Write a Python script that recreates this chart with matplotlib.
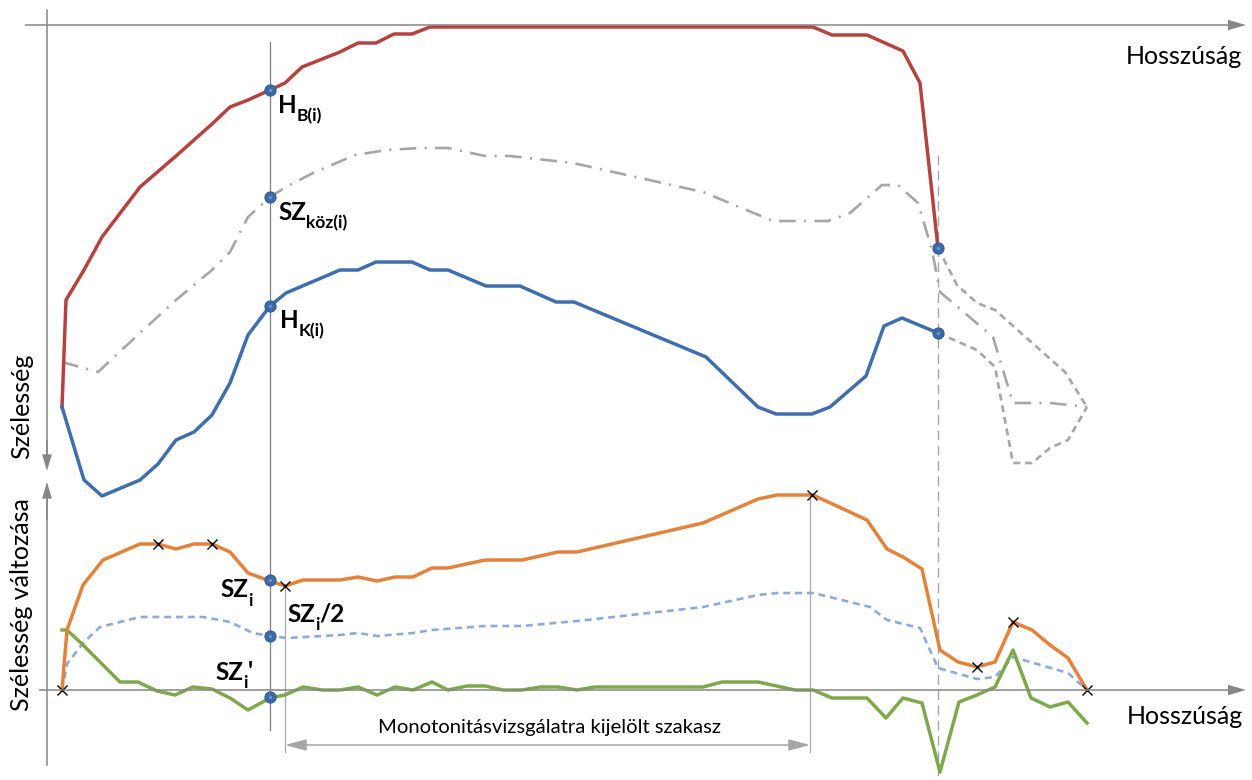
import matplotlib
matplotlib.use("Agg")
import matplotlib.pyplot as plt

plt.rcParams['font.family'] = ['Lato', 'DejaVu Sans']
plt.rcParams['lines.scale_dashes'] = False

# ---------------- data (length position / value, drawing units) ----------------
hb_x = [62, 66, 84, 102, 140, 176, 212, 230, 248, 270, 285, 302, 340, 358, 376, 394, 412, 430,
        813, 832, 867, 903, 920, 938]
hb_y = [407, 300, 270, 237, 187, 156, 124, 107, 100, 90, 83, 67, 52, 43, 43, 34, 34, 27,
        27, 35, 35, 51, 83, 248]

hk_x = [62, 84, 102, 140, 158, 176, 194, 212, 230, 248, 270, 286, 340, 358, 376, 412, 430, 448,
        486, 520, 556, 574, 706, 758, 776, 812, 830, 866, 884, 902, 938]
hk_y = [407, 480, 496, 480, 464, 440, 432, 415, 383, 335, 306, 293, 270, 270, 262, 262, 270, 270,
        286, 286, 302, 302, 357, 407, 414, 414, 407, 376, 326, 318, 333]

szkoz_x = [62, 98, 140, 176, 212, 230, 248, 270, 286, 313, 355, 387, 420, 448, 485, 510, 573,
           703, 773, 828, 850, 882, 898, 918, 932, 940, 993, 1013, 1050, 1087]
szkoz_y = [362, 372, 333, 300, 270, 252, 217, 197, 187, 173, 155, 150, 148, 148, 156, 156, 163,
           192, 221, 221, 213, 185, 185, 203, 250, 292, 337, 403, 403, 407]

ext_up_x = [938, 957, 977, 995, 1065, 1087]
ext_up_y = [248, 285, 303, 310, 372, 407]
ext_lo_x = [938, 977, 995, 1013, 1032, 1050, 1068, 1087]
ext_lo_y = [333, 350, 367, 463, 463, 448, 440, 407]

sz_x = [62, 67, 83, 103, 140, 158, 176, 194, 212, 230, 248, 270, 285, 303, 340, 358, 377, 395,
        413, 432, 448, 485, 522, 558, 577, 703, 758, 777, 813, 867, 887, 903, 922, 940, 958,
        977, 995, 1013, 1032, 1050, 1068, 1087]
sz_y = [690, 630, 585, 560, 544, 544, 549, 544, 544, 552, 573, 581, 586, 580, 580, 577, 581, 577,
        577, 568, 568, 560, 560, 552, 552, 523, 499, 495, 495, 520, 549, 557, 569, 650, 662,
        667, 662, 622, 630, 645, 658, 690]

szh_x = [62, 67, 83, 100, 140, 203, 230, 253, 270, 287, 340, 358, 377, 413, 432, 485, 522, 577,
         703, 758, 777, 813, 850, 870, 887, 920, 938, 977, 995, 1013, 1068, 1087]
szh_y = [690, 664, 643, 627, 617, 617, 622, 633, 636, 638, 635, 633, 636, 633, 630, 626, 626, 621,
         607, 595, 593, 593, 602, 607, 620, 628, 668, 679, 677, 657, 673, 690]

szd_x = [62, 67, 83, 103, 120, 138, 157, 175, 193, 212, 230, 248, 270, 285, 303, 322, 340, 358,
         377, 395, 413, 432, 448, 467, 485, 503, 522, 540, 558, 577, 595, 703, 722, 758, 795,
         813, 832, 867, 886, 903, 922, 940, 959, 977, 995, 1013, 1031, 1050, 1068, 1087]
szd_y = [630, 630, 645, 665, 682, 682, 691, 695, 687, 689, 698, 710, 698, 695, 687, 690, 690, 687,
         695, 687, 690, 682, 690, 686, 686, 690, 690, 687, 687, 690, 687, 687, 682, 682, 690,
         690, 698, 698, 718, 698, 703, 772, 702, 695, 687, 650, 698, 707, 702, 723]

extr_x = [62, 158, 212, 285, 812, 977, 1013, 1087]
extr_y = [690, 544, 544, 586, 495, 667, 622, 690]

pt_x = [270, 270, 270, 938, 938, 270, 270, 270]
pt_y = [90, 197, 306, 248, 333, 580, 636, 697]

# ---------------- figure ----------------
fig = plt.figure(figsize=(12.52, 7.80), dpi=100)
ax = fig.add_axes([0, 0, 1, 1])
ax.set_xlim(0, 1252)
ax.set_ylim(780, 0)
ax.axis('off')
renderer = fig.canvas.get_renderer()

AX_C = '#868686'
LG = '#a6a6a6'

def arrow(x0, y0, x1, y1, color, lw=1.1, hl=13, hw=7.5):
    ax.annotate('', xy=(x1, y1), xytext=(x0, y0),
                arrowprops=dict(facecolor=color, edgecolor='none', width=lw,
                                headwidth=hw, headlength=hl, shrink=0))

# axes
arrow(25, 25, 1246, 25, AX_C)
ax.plot([47, 47], [10, 455], color=AX_C, lw=1.1)
arrow(47, 440, 47, 471, AX_C, hl=12, hw=7)
ax.plot([47, 47], [765, 495], color=AX_C, lw=1.1)
arrow(47, 520, 47, 482, AX_C, hl=12, hw=7)
arrow(39, 690, 1246, 690, AX_C)

# guide lines
ax.plot([270, 270], [42, 730], color='#7f7f7f', lw=0.9)
ax.plot([938, 938], [155, 778], color=LG, lw=1.0, ls=(0, (7, 4)))
ax.plot([285, 285], [586, 752], color=LG, lw=0.9)
ax.plot([810, 810], [495, 752], color=LG, lw=0.9)
ax.annotate('', xy=(285, 745), xytext=(810, 745),
            arrowprops=dict(arrowstyle='<|-|>,head_length=1.3,head_width=0.35',
                            color=LG, lw=1.1, mutation_scale=10, shrinkA=0, shrinkB=0))

# series
ax.plot(szkoz_x, szkoz_y, color=LG, lw=1.9, ls=(0, (12, 6, 1.5, 6)))
ax.plot(ext_up_x, ext_up_y, color=LG, lw=1.9, ls=(0, (5, 3.5)))
ax.plot(ext_lo_x, ext_lo_y, color=LG, lw=1.9, ls=(0, (5, 3.5)))
ax.plot(hb_x, hb_y, color='#b5423e', lw=2.5)
ax.plot(hk_x, hk_y, color='#3e6eab', lw=2.5)
ax.plot(szh_x, szh_y, color='#8eaadb', lw=1.9, ls=(0, (5, 3.5)))
ax.plot(szd_x, szd_y, color='#7ea84a', lw=2.5)
ax.plot(sz_x, sz_y, color='#e3823a', lw=2.5)
ax.plot(extr_x, extr_y, ls='none', marker='x', color='black', ms=7.5, mew=1.0)

ax.plot(pt_x, pt_y, ls='none', marker='o', ms=8, mfc='#3c6aa6', mec='#335d94', mew=0.8, zorder=5)
ax.plot(pt_x, pt_y, ls='none', marker='o', ms=2.4, mfc='#6b93c8', mec='none', zorder=6)

# texts
ax.text(1242, 57, 'Hosszúság', ha='right', va='center', fontsize=18)
ax.text(1243, 717, 'Hosszúság', ha='right', va='center', fontsize=18)
ax.text(22, 406, 'Szélesség', rotation=90, ha='center', va='center', fontsize=18)
ax.text(22, 605, 'Szélesség változása', rotation=90, ha='center', va='center', fontsize=18)
ax.text(550, 728, 'Monotonitásvizsgálatra kijelölt szakasz', ha='center', va='center', fontsize=14.6)

MAIN_FS, SUB_FS, DROP = 17.5, 12.5, 8.5

def label(x, yb, main, sub, tail='', prime=False):
    t = ax.text(x, yb, main, fontsize=MAIN_FS, fontweight='bold', va='baseline', ha='left')
    bb = t.get_window_extent(renderer)
    xs = x + bb.width
    s = ax.text(xs, yb + DROP, sub, fontsize=SUB_FS, fontweight='bold', va='baseline', ha='left')
    sb = s.get_window_extent(renderer)
    if tail:
        ax.text(xs + sb.width, yb, tail, fontsize=MAIN_FS, fontweight='bold',
                va='baseline', ha='left')
    if prime:
        ax.text(xs + sb.width, yb - 1, "'", fontsize=MAIN_FS, fontweight='bold',
                va='baseline', ha='left')

label(278, 113, 'H', 'B(i)')
label(278, 220, 'SZ', 'köz(i)')
label(280, 328, 'H', 'K(i)')
label(220, 597, 'SZ', 'i')
label(287, 622, 'SZ', 'i', tail='/2')
label(215, 680, 'SZ', 'i', prime=True)

fig.savefig('out.png', dpi=100)
